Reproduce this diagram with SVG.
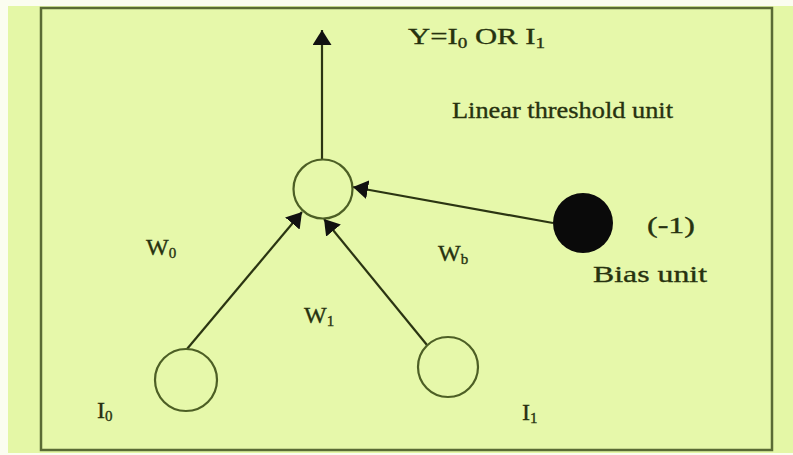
<svg xmlns="http://www.w3.org/2000/svg" width="793" height="455" viewBox="0 0 793 455">
<style>
.t{font-family:"Liberation Serif","Times New Roman",serif;fill:#27320f;stroke:#27320f;stroke-width:0.35;font-size:24px}
.n{fill:none;stroke:#4d5f25;stroke-width:2.2}
.c{stroke:#2b3512;stroke-width:2.2;fill:none}
</style>
<defs>
<marker id="ah" viewBox="0 0 15 19" refX="15" refY="9.5" markerWidth="15" markerHeight="19" markerUnits="userSpaceOnUse" orient="auto">
<path d="M0,0 L15,9.5 L0,19 z" fill="#111"/>
</marker>
</defs>
<rect x="0" y="0" width="793" height="455" fill="#fbfdf0"/>
<rect x="8" y="6" width="785" height="447" fill="#e4f7a6"/>
<rect x="41" y="8" width="731" height="442" fill="#e6f8aa" stroke="#5a6b35" stroke-width="2.5"/>

<g id="connectors">
<line class="c" x1="322" y1="160" x2="322" y2="30" marker-end="url(#ah)"/>
<line class="c" x1="187" y1="349" x2="302" y2="212" marker-end="url(#ah)"/>
<line class="c" x1="427" y1="345" x2="324" y2="219" marker-end="url(#ah)"/>
<line class="c" x1="553" y1="223" x2="353" y2="187" marker-end="url(#ah)"/>
</g>

<g id="threshold">
<circle class="n" cx="323" cy="189" r="29.5"/>
</g>
<g id="input0">
<circle class="n" cx="186" cy="380" r="31"/>
</g>
<g id="input1">
<circle class="n" cx="448" cy="367" r="30"/>
</g>
<g id="bias">
<circle cx="583" cy="223" r="30" fill="#0a0a0a"/>
</g>

<g id="labels">
<text class="t" x="408" y="44" font-size="25" textLength="137" lengthAdjust="spacingAndGlyphs">Y=I<tspan font-size="15" dy="4">0</tspan><tspan dy="-4"> OR I</tspan><tspan font-size="15" dy="4">1</tspan></text>
<text class="t" x="452" y="118" font-size="22" textLength="221" lengthAdjust="spacingAndGlyphs">Linear threshold unit</text>
<text class="t" x="647" y="233" font-size="26" textLength="48" lengthAdjust="spacingAndGlyphs">(-1)</text>
<text class="t" x="593" y="282" font-size="27" textLength="114" lengthAdjust="spacingAndGlyphs">Bias unit</text>
<text class="t" x="146" y="255" font-size="24">W<tspan font-size="15" dy="3">0</tspan></text>
<text class="t" x="304" y="323" font-size="24">W<tspan font-size="15" dy="3">1</tspan></text>
<text class="t" x="438" y="261" font-size="24">W<tspan font-size="15" dy="3">b</tspan></text>
<text class="t" x="97" y="418" font-size="24">I<tspan font-size="15" dy="3">0</tspan></text>
<text class="t" x="522" y="420" font-size="24">I<tspan font-size="15" dy="3">1</tspan></text>
</g>
</svg>
